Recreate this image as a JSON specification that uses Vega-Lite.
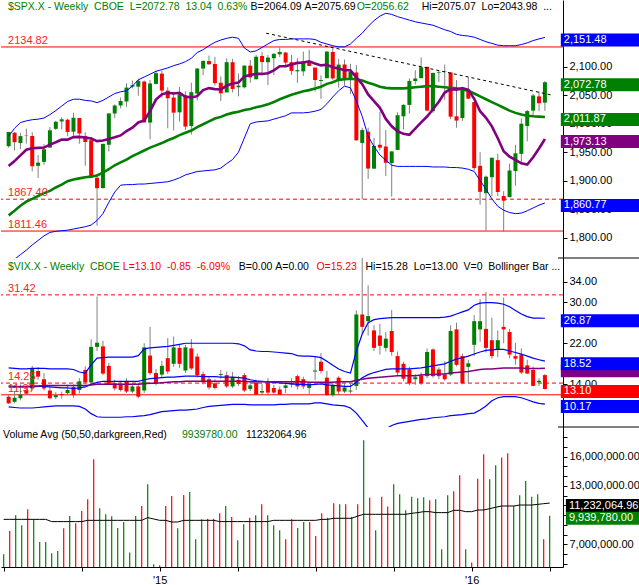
{
"$schema":"https://vega.github.io/schema/vega-lite/v6.json",
"padding":0,"background":"white","spacing":0,"bounds":"flush",
"config":{"view":{"stroke":null},"font":"Liberation Sans","axis":{"labelFont":"Liberation Sans","grid":false,"domainColor":"#000","tickColor":"#000","labelColor":"#000","labelFontSize":11}},
"datasets":{
"spx":[
{"i":0,"o":1960.5,"h":1985.6,"l":1958,"c":1985.44,"m10":1925.65,"m50":1839,"bu":1978,"bl":1755,"v":5970000,"va":9560000,"d":"u"},
{"i":1,"o":1984.2,"h":1985.6,"l":1952.9,"c":1967.57,"m10":1934.29,"m50":1847,"bu":1992,"bl":1762,"v":8360000,"va":9560000,"d":"d"},
{"i":2,"o":1966,"h":1983.9,"l":1955.6,"c":1978.22,"m10":1944.26,"m50":1856,"bu":2002,"bl":1770,"v":9970000,"va":9560000,"d":"u"},
{"i":3,"o":1979,"h":1991.4,"l":1965,"c":1978.34,"m10":1954.31,"m50":1863,"bu":2005,"bl":1778,"v":8950000,"va":9560000,"d":"u"},
{"i":4,"o":1978.3,"h":1984.9,"l":1916.4,"c":1925.15,"m10":1956.77,"m50":1868,"bu":2007,"bl":1787,"v":10590000,"va":9560000,"d":"d"},
{"i":5,"o":1926,"h":1945,"l":1904.8,"c":1931.59,"m10":1957.57,"m50":1873,"bu":2008,"bl":1795,"v":9560000,"va":9560000,"d":"u"},
{"i":6,"o":1933,"h":1964,"l":1928,"c":1955.06,"m10":1958.14,"m50":1878,"bu":2010,"bl":1803,"v":7230000,"va":9560000,"d":"u"},
{"i":7,"o":1958,"h":1994,"l":1958,"c":1988.4,"m10":1963.36,"m50":1882,"bu":2016,"bl":1809,"v":7230000,"va":9560000,"d":"u"},
{"i":8,"o":1991,"h":2005,"l":1989,"c":2003.37,"m10":1967.41,"m50":1888,"bu":2023,"bl":1811,"v":6070000,"va":9330000,"d":"u"},
{"i":9,"o":2004,"h":2011.2,"l":1990,"c":2007.71,"m10":1972.09,"m50":1893,"bu":2031,"bl":1812,"v":6310000,"va":9330000,"d":"u"},
{"i":10,"o":2007,"h":2009,"l":1978,"c":1985.54,"m10":1972.1,"m50":1899,"bu":2039,"bl":1813,"v":8640000,"va":9330000,"d":"d"},
{"i":11,"o":1986,"h":2019.3,"l":1978.5,"c":2010.4,"m10":1976.38,"m50":1902,"bu":2043,"bl":1815,"v":9900000,"va":9330000,"d":"u"},
{"i":12,"o":2010,"h":2010.4,"l":1965,"c":1982.85,"m10":1976.84,"m50":1904,"bu":2043,"bl":1817,"v":9150000,"va":9330000,"d":"d"},
{"i":13,"o":1978,"h":1985,"l":1926,"c":1967.9,"m10":1975.8,"m50":1906,"bu":2041,"bl":1819,"v":10420000,"va":9330000,"d":"d"},
{"i":14,"o":1971,"h":1977,"l":1905,"c":1906.13,"m10":1973.9,"m50":1907,"bu":2040,"bl":1822,"v":11620000,"va":9460000,"d":"d"},
{"i":15,"o":1905,"h":1912,"l":1820.7,"c":1886.76,"m10":1969.41,"m50":1909,"bu":2037,"bl":1830,"v":15720000,"va":9460000,"d":"d"},
{"i":16,"o":1887,"h":1965,"l":1886,"c":1964.58,"m10":1970.36,"m50":1914,"bu":2041,"bl":1842,"v":10690000,"va":9460000,"d":"u"},
{"i":17,"o":1963,"h":2018.2,"l":1951,"c":2018.05,"m10":1973.33,"m50":1920,"bu":2047,"bl":1862,"v":10080000,"va":9460000,"d":"u"},
{"i":18,"o":2018,"h":2034,"l":2010,"c":2031.92,"m10":1976.18,"m50":1927,"bu":2053,"bl":1880,"v":9870000,"va":9460000,"d":"u"},
{"i":19,"o":2032,"h":2046,"l":2027,"c":2039.82,"m10":1979.4,"m50":1932,"bu":2056,"bl":1892,"v":8670000,"va":9460000,"d":"u"},
{"i":20,"o":2039,"h":2071,"l":2030,"c":2063.5,"m10":1987.19,"m50":1937,"bu":2058,"bl":1893,"v":9290000,"va":9460000,"d":"u"},
{"i":21,"o":2065,"h":2075.8,"l":2062,"c":2067.56,"m10":1992.91,"m50":1943,"bu":2066,"bl":1893,"v":6170000,"va":9460000,"d":"u"},
{"i":22,"o":2065,"h":2079,"l":2049,"c":2075.37,"m10":2002.16,"m50":1948,"bu":2077,"bl":1894,"v":9900000,"va":9460000,"d":"u"},
{"i":23,"o":2074,"h":2075.8,"l":2002,"c":2002.33,"m10":2005.6,"m50":1953,"bu":2082,"bl":1894,"v":10930000,"va":9460000,"d":"d"},
{"i":24,"o":2002,"h":2077,"l":1972.6,"c":2070.65,"m10":2022.05,"m50":1958,"bu":2087,"bl":1895,"v":13160000,"va":9740000,"d":"u"},
{"i":25,"o":2070,"h":2093.6,"l":2069,"c":2088.77,"m10":2042.26,"m50":1962,"bu":2092,"bl":1896,"v":4940000,"va":9600000,"d":"u"},
{"i":26,"o":2088,"h":2093,"l":2046,"c":2058.2,"m10":2051.62,"m50":1966,"bu":2095,"bl":1897,"v":4840000,"va":9460000,"d":"d"},
{"i":27,"o":2058,"h":2064,"l":1992,"c":2044.81,"m10":2054.29,"m50":1971,"bu":2098,"bl":1898,"v":10930000,"va":9460000,"d":"d"},
{"i":28,"o":2046,"h":2056,"l":1988,"c":2019.42,"m10":2053.04,"m50":1975,"bu":2102,"bl":1901,"v":11960000,"va":9290000,"d":"d"},
{"i":29,"o":2020,"h":2064.6,"l":2004,"c":2051.82,"m10":2054.24,"m50":1980,"bu":2105,"bl":1905,"v":8640000,"va":9290000,"d":"u"},
{"i":30,"o":2050,"h":2057,"l":1989,"c":1994.99,"m10":2047.39,"m50":1984,"bu":2109,"bl":1910,"v":12060000,"va":9460000,"d":"d"},
{"i":31,"o":1996,"h":2072,"l":1980.9,"c":2055.47,"m10":2046.18,"m50":1988,"bu":2115,"bl":1913,"v":12370000,"va":9460000,"d":"u"},
{"i":32,"o":2053,"h":2097,"l":2041,"c":2096.99,"m10":2048.35,"m50":1994,"bu":2125,"bl":1916,"v":7510000,"va":9460000,"d":"u"},
{"i":33,"o":2097,"h":2111,"l":2085,"c":2110.3,"m10":2059.14,"m50":1999,"bu":2130,"bl":1917,"v":9560000,"va":9460000,"d":"u"},
{"i":34,"o":2110,"h":2119.6,"l":2103,"c":2104.5,"m10":2062.53,"m50":2004,"bu":2137,"bl":1918,"v":9630000,"va":9460000,"d":"d"},
{"i":35,"o":2105,"h":2117.5,"l":2067,"c":2071.26,"m10":2060.78,"m50":2009,"bu":2143,"bl":1919,"v":9630000,"va":9460000,"d":"d"},
{"i":36,"o":2072,"h":2083,"l":2039.7,"c":2053.4,"m10":2060.3,"m50":2012,"bu":2147,"bl":1922,"v":10180000,"va":9330000,"d":"d"},
{"i":37,"o":2055,"h":2114.9,"l":2055,"c":2108.1,"m10":2066.63,"m50":2016,"bu":2150,"bl":1930,"v":10930000,"va":9330000,"d":"u"},
{"i":38,"o":2108,"h":2114,"l":2055,"c":2061.02,"m10":2070.79,"m50":2019,"bu":2152,"bl":1937,"v":9800000,"va":9330000,"d":"d"},
{"i":39,"o":2064,"h":2088,"l":2048,"c":2066.96,"m10":2072.3,"m50":2021,"bu":2150,"bl":1950,"v":7410000,"va":9330000,"d":"u"},
{"i":40,"o":2064,"h":2102.6,"l":2062,"c":2102.06,"m10":2083.01,"m50":2024,"bu":2133,"bl":1975,"v":9050000,"va":9330000,"d":"u"},
{"i":41,"o":2102,"h":2111.9,"l":2072,"c":2081.18,"m10":2085.58,"m50":2026,"bu":2126,"bl":2000,"v":9730000,"va":9330000,"d":"d"},
{"i":42,"o":2078,"h":2120.9,"l":2078,"c":2117.69,"m10":2087.65,"m50":2029,"bu":2128,"bl":2003,"v":9970000,"va":9330000,"d":"u"},
{"i":43,"o":2119,"h":2125.9,"l":2085,"c":2108.29,"m10":2087.45,"m50":2031,"bu":2134,"bl":2004,"v":11100000,"va":9330000,"d":"d"},
{"i":44,"o":2108,"h":2120.9,"l":2067.9,"c":2116.1,"m10":2088.61,"m50":2034,"bu":2140,"bl":2005,"v":9970000,"va":9330000,"d":"u"},
{"i":45,"o":2115,"h":2123.9,"l":2085.6,"c":2122.73,"m10":2093.75,"m50":2038,"bu":2146,"bl":2008,"v":8950000,"va":9460000,"d":"u"},
{"i":46,"o":2122,"h":2134.7,"l":2117,"c":2126.06,"m10":2101.02,"m50":2043,"bu":2148,"bl":2011,"v":8430000,"va":9460000,"d":"u"},
{"i":47,"o":2125,"h":2126.2,"l":2099,"c":2107.39,"m10":2100.95,"m50":2047,"bu":2148,"bl":2014,"v":7510000,"va":9460000,"d":"d"},
{"i":48,"o":2108,"h":2121,"l":2085.7,"c":2092.83,"m10":2104.13,"m50":2051,"bu":2149,"bl":2019,"v":9560000,"va":9460000,"d":"d"},
{"i":49,"o":2092,"h":2115,"l":2072,"c":2094.11,"m10":2106.84,"m50":2054,"bu":2149,"bl":2019,"v":8670000,"va":9460000,"d":"u"},
{"i":50,"o":2092,"h":2126.6,"l":2084,"c":2109.99,"m10":2107.64,"m50":2057,"bu":2149,"bl":2019,"v":9290000,"va":9460000,"d":"u"},
{"i":51,"o":2110,"h":2129.9,"l":2101,"c":2101.49,"m10":2109.67,"m50":2059,"bu":2149,"bl":2020,"v":9290000,"va":9460000,"d":"d"},
{"i":52,"o":2098.6,"h":2098.6,"l":2056.6,"c":2076.78,"m10":2105.58,"m50":2062,"bu":2148,"bl":2022,"v":7850000,"va":9460000,"d":"d"},
{"i":53,"o":2075,"h":2085,"l":2044,"c":2076.62,"m10":2102.41,"m50":2065,"bu":2143,"bl":2025,"v":10180000,"va":9560000,"d":"d"},
{"i":54,"o":2080,"h":2128,"l":2080,"c":2126.64,"m10":2103.46,"m50":2070,"bu":2140,"bl":2035,"v":9730000,"va":9560000,"d":"u"},
{"i":55,"o":2126,"h":2132.8,"l":2077,"c":2079.65,"m10":2099.16,"m50":2073,"bu":2137,"bl":2047,"v":11210000,"va":9670000,"d":"d"},
{"i":56,"o":2077,"h":2114,"l":2063.5,"c":2103.84,"m10":2096.93,"m50":2077,"bu":2135,"bl":2058,"v":11100000,"va":9670000,"d":"u"},
{"i":57,"o":2104,"h":2112.7,"l":2067,"c":2077.57,"m10":2093.95,"m50":2078,"bu":2135,"bl":2066,"v":11100000,"va":9670000,"d":"d"},
{"i":58,"o":2080,"h":2105,"l":2052,"c":2091.54,"m10":2093.82,"m50":2079,"bu":2140,"bl":2063,"v":9840000,"va":9670000,"d":"u"},
{"i":59,"o":2090,"h":2103,"l":1970,"c":1970.89,"m10":2081.5,"m50":2078,"bu":2150,"bl":2040,"v":11100000,"va":9900000,"d":"d"},
{"i":60,"o":1966,"h":1993,"l":1867,"c":1988.87,"m10":2069.39,"m50":2076,"bu":2159,"bl":2013,"v":17670000,"va":10080000,"d":"u"},
{"i":61,"o":1986,"h":1993,"l":1903,"c":1921.22,"m10":2051.36,"m50":2072,"bu":2171,"bl":1978,"v":11790000,"va":10080000,"d":"d"},
{"i":62,"o":1921,"h":1975,"l":1921,"c":1961.05,"m10":2039.79,"m50":2069,"bu":2181,"bl":1960,"v":8430000,"va":10080000,"d":"u"},
{"i":63,"o":1963,"h":2020.9,"l":1953,"c":1958.03,"m10":2027.93,"m50":2065,"bu":2189,"bl":1945,"v":11890000,"va":10080000,"d":"d"},
{"i":64,"o":1960,"h":1989,"l":1908,"c":1931.34,"m10":2008.4,"m50":2063,"bu":2194,"bl":1936,"v":10870000,"va":10080000,"d":"d"},
{"i":65,"o":1931,"h":1951.4,"l":1871.9,"c":1951.36,"m10":1995.57,"m50":2062,"bu":2192,"bl":1927,"v":13160000,"va":10080000,"d":"u"},
{"i":66,"o":1954,"h":2020,"l":1954,"c":2014.89,"m10":1986.68,"m50":2062,"bu":2188,"bl":1925,"v":12130000,"va":10080000,"d":"u"},
{"i":67,"o":2013,"h":2034,"l":1990,"c":2033.11,"m10":1982.23,"m50":2062,"bu":2185,"bl":1925,"v":10490000,"va":10080000,"d":"u"},
{"i":68,"o":2033,"h":2079.7,"l":2018,"c":2075.15,"m10":1980.59,"m50":2063,"bu":2182,"bl":1925,"v":11890000,"va":10180000,"d":"u"},
{"i":69,"o":2075,"h":2094,"l":2069,"c":2079.36,"m10":1991.44,"m50":2064,"bu":2179,"bl":1925,"v":11720000,"va":10250000,"d":"u"},
{"i":70,"o":2080,"h":2116.5,"l":2080,"c":2099.2,"m10":2002.47,"m50":2065,"bu":2177,"bl":1925,"v":11820000,"va":10350000,"d":"u"},
{"i":71,"o":2100,"h":2100,"l":2022,"c":2023.04,"m10":2012.65,"m50":2066,"bu":2175,"bl":1925,"v":11510000,"va":10350000,"d":"d"},
{"i":72,"o":2022,"h":2089.6,"l":2019,"c":2089.17,"m10":2025.47,"m50":2066,"bu":2173,"bl":1924,"v":11620000,"va":10250000,"d":"u"},
{"i":73,"o":2089,"h":2094,"l":2073,"c":2090.11,"m10":2038.67,"m50":2065,"bu":2169,"bl":1924,"v":6480000,"va":10250000,"d":"u"},
{"i":74,"o":2091,"h":2104,"l":2042,"c":2091.69,"m10":2054.71,"m50":2064,"bu":2165,"bl":1924,"v":12030000,"va":10250000,"d":"u"},
{"i":75,"o":2090,"h":2090,"l":2008,"c":2012.37,"m10":2060.81,"m50":2063,"bu":2162,"bl":1923,"v":12440000,"va":10490000,"d":"d"},
{"i":76,"o":2013,"h":2076.7,"l":1993,"c":2005.55,"m10":2059.88,"m50":2062,"bu":2157,"bl":1923,"v":14080000,"va":10490000,"d":"d"},
{"i":77,"o":2010,"h":2064,"l":2005,"c":2060.99,"m10":2062.66,"m50":2060,"bu":2155,"bl":1922,"v":6480000,"va":10350000,"d":"u"},
{"i":78,"o":2060,"h":2081.6,"l":2043.6,"c":2043.94,"m10":2059.54,"m50":2058,"bu":2154,"bl":1920,"v":5120000,"va":10350000,"d":"d"},
{"i":79,"o":2038,"h":2038.2,"l":1918,"c":1922.03,"m10":2043.81,"m50":2053,"bu":2152,"bl":1916,"v":13740000,"va":10520000,"d":"d"},
{"i":80,"o":1926,"h":1950,"l":1857.8,"c":1880.33,"m10":2021.92,"m50":2048,"bu":2148,"bl":1900,"v":16240000,"va":10520000,"d":"d"},
{"i":81,"o":1878,"h":1908.8,"l":1812.3,"c":1906.9,"m10":2010.31,"m50":2043,"bu":2144,"bl":1885,"v":13670000,"va":10660000,"d":"u"},
{"i":82,"o":1906,"h":1940.3,"l":1872.7,"c":1940.24,"m10":1995.42,"m50":2038,"bu":2141,"bl":1868,"v":15110000,"va":10800000,"d":"u"},
{"i":83,"o":1936,"h":1947.2,"l":1872.7,"c":1880.05,"m10":1974.41,"m50":2033,"bu":2138,"bl":1855,"v":15900000,"va":10930000,"d":"d"},
{"i":84,"o":1873,"h":1881.6,"l":1810.1,"c":1864.78,"m10":1951.72,"m50":2028,"bu":2137,"bl":1848,"v":16340000,"va":10930000,"d":"d"},
{"i":85,"o":1871,"h":1930,"l":1871,"c":1917.78,"m10":1942.26,"m50":2023,"bu":2137,"bl":1844,"v":10930000,"va":10930000,"d":"u"},
{"i":86,"o":1917,"h":1963,"l":1891,"c":1948.05,"m10":1936.51,"m50":2019,"bu":2137,"bl":1842,"v":12030000,"va":11030000,"d":"u"},
{"i":87,"o":1947,"h":2009,"l":1931.8,"c":1999.99,"m10":1930.41,"m50":2016,"bu":2139,"bl":1843,"v":13500000,"va":11030000,"d":"u"},
{"i":88,"o":1996,"h":2024,"l":1969,"c":2022.19,"m10":1928.23,"m50":2014,"bu":2142,"bl":1847,"v":11890000,"va":11030000,"d":"u"},
{"i":89,"o":2023,"h":2052.4,"l":2012,"c":2049.58,"m10":1940.99,"m50":2013,"bu":2146,"bl":1852,"v":12130000,"va":11100000,"d":"u"},
{"i":90,"o":2048,"h":2056.6,"l":2022,"c":2035.94,"m10":1956.55,"m50":2012.5,"bu":2149,"bl":1857,"v":7510000,"va":11170000,"d":"d"},
{"i":91,"o":2037,"h":2075.1,"l":2022.5,"c":2072.78,"m10":1973.13,"m50":2011.87,"bu":2151.48,"bl":1860.77,"v":9939780,"va":11232064.96,"d":"u"}
],
"vix":[
{"i":0,"o":11.6,"h":12.0,"l":10.2,"c":10.3,"bu":17.2,"bm":13.7,"bl":9.6,"m":13.5},
{"i":1,"o":10.6,"h":12.6,"l":10.3,"c":11.4,"bu":17.1,"bm":13.6,"bl":9.5,"m":13.5},
{"i":2,"o":11.3,"h":14.0,"l":10.9,"c":12.0,"bu":17.0,"bm":13.5,"bl":9.4,"m":13.6},
{"i":3,"o":12.9,"h":13.3,"l":11.9,"c":12.2,"bu":17.0,"bm":13.5,"bl":9.4,"m":13.6},
{"i":4,"o":13.2,"h":17.6,"l":12.8,"c":17.1,"bu":17.1,"bm":13.5,"bl":9.4,"m":13.7},
{"i":5,"o":16.6,"h":17.4,"l":14.9,"c":15.5,"bu":17.1,"bm":13.6,"bl":9.5,"m":13.7},
{"i":6,"o":15.0,"h":16.2,"l":12.8,"c":13.2,"bu":17.1,"bm":13.6,"bl":9.6,"m":13.8},
{"i":7,"o":12.8,"h":13.5,"l":11.1,"c":11.3,"bu":17.0,"bm":13.5,"bl":9.7,"m":13.8},
{"i":8,"o":11.5,"h":12.5,"l":11.1,"c":11.9,"bu":17.0,"bm":13.4,"bl":9.8,"m":13.8},
{"i":9,"o":12.1,"h":12.6,"l":11.2,"c":11.9,"bu":17.0,"bm":13.3,"bl":9.8,"m":13.8},
{"i":10,"o":12.3,"h":13.9,"l":11.9,"c":12.9,"bu":17.0,"bm":13.3,"bl":9.8,"m":13.8},
{"i":11,"o":13.5,"h":14.0,"l":11.4,"c":11.9,"bu":16.9,"bm":13.2,"bl":9.8,"m":13.8},
{"i":12,"o":12.9,"h":15.2,"l":12.2,"c":14.6,"bu":16.4,"bm":13.3,"bl":9.7,"m":13.8},
{"i":13,"o":16.8,"h":17.5,"l":14.0,"c":14.4,"bu":16.2,"bm":13.5,"bl":9.2,"m":13.8},
{"i":14,"o":14.4,"h":22.8,"l":14.0,"c":21.3,"bu":17.8,"bm":14.0,"bl":8.3,"m":13.9},
{"i":15,"o":21.3,"h":31.1,"l":20.5,"c":22.1,"bu":19.1,"bm":14.4,"bl":7.7,"m":14.0},
{"i":16,"o":21.4,"h":22.5,"l":15.8,"c":16.1,"bu":19.2,"bm":14.6,"bl":7.6,"m":14.0},
{"i":17,"o":17.6,"h":18.2,"l":13.9,"c":14.1,"bu":19.3,"bm":14.6,"bl":7.6,"m":14.0},
{"i":18,"o":14.2,"h":14.9,"l":12.8,"c":13.2,"bu":19.3,"bm":14.6,"bl":7.6,"m":14.0},
{"i":19,"o":14.0,"h":14.5,"l":12.6,"c":12.9,"bu":19.3,"bm":14.6,"bl":7.6,"m":14.0},
{"i":20,"o":14.6,"h":15.2,"l":12.3,"c":12.6,"bu":19.3,"bm":14.6,"bl":7.7,"m":14.0},
{"i":21,"o":12.6,"h":14.3,"l":12.3,"c":13.6,"bu":19.3,"bm":14.6,"bl":7.7,"m":14.0},
{"i":22,"o":13.6,"h":14.3,"l":11.3,"c":11.6,"bu":19.6,"bm":14.6,"bl":7.8,"m":14.0},
{"i":23,"o":12.8,"h":22.0,"l":12.3,"c":21.2,"bu":20.9,"bm":14.9,"bl":7.9,"m":14.1},
{"i":24,"o":19.6,"h":25.2,"l":15.8,"c":16.2,"bu":21.1,"bm":15.1,"bl":8.1,"m":14.2},
{"i":25,"o":16.2,"h":17.0,"l":13.8,"c":14.2,"bu":21.2,"bm":15.2,"bl":8.4,"m":14.2},
{"i":26,"o":15.9,"h":18.6,"l":15.4,"c":17.6,"bu":21.3,"bm":15.3,"bl":8.7,"m":14.3},
{"i":27,"o":19.1,"h":23.0,"l":16.0,"c":16.5,"bu":21.4,"bm":15.4,"bl":8.8,"m":14.4},
{"i":28,"o":18.0,"h":23.3,"l":17.4,"c":21.2,"bu":21.6,"bm":15.4,"bl":8.9,"m":14.5},
{"i":29,"o":21.1,"h":21.8,"l":17.2,"c":18.0,"bu":21.8,"bm":15.5,"bl":9.0,"m":14.5},
{"i":30,"o":16.7,"h":21.7,"l":16.2,"c":21.2,"bu":22.0,"bm":15.6,"bl":9.0,"m":14.6},
{"i":31,"o":21.0,"h":22.8,"l":16.8,"c":17.1,"bu":22.0,"bm":15.6,"bl":9.1,"m":14.6},
{"i":32,"o":19.4,"h":20.0,"l":15.3,"c":15.8,"bu":22.0,"bm":15.6,"bl":9.2,"m":14.6},
{"i":33,"o":16.0,"h":16.5,"l":14.0,"c":14.4,"bu":22.0,"bm":15.5,"bl":9.5,"m":14.6},
{"i":34,"o":15.0,"h":15.6,"l":13.0,"c":13.4,"bu":22.0,"bm":15.5,"bl":9.7,"m":14.6},
{"i":35,"o":14.2,"h":15.0,"l":13.0,"c":13.3,"bu":22.0,"bm":15.5,"bl":9.8,"m":14.6},
{"i":36,"o":15.8,"h":16.8,"l":15.1,"c":16.0,"bu":22.0,"bm":15.4,"bl":9.9,"m":14.6},
{"i":37,"o":15.8,"h":16.5,"l":13.3,"c":13.6,"bu":22.0,"bm":15.4,"bl":10.0,"m":14.6},
{"i":38,"o":13.6,"h":16.4,"l":13.3,"c":15.4,"bu":22.0,"bm":15.4,"bl":10.1,"m":14.6},
{"i":39,"o":14.9,"h":15.6,"l":13.7,"c":14.1,"bu":21.9,"bm":15.3,"bl":10.1,"m":14.6},
{"i":40,"o":15.8,"h":16.2,"l":12.5,"c":12.8,"bu":21.5,"bm":15.2,"bl":10.1,"m":14.6},
{"i":41,"o":13.1,"h":14.6,"l":12.7,"c":13.8,"bu":20.7,"bm":14.9,"bl":10.0,"m":14.5},
{"i":42,"o":14.3,"h":14.9,"l":11.9,"c":12.0,"bu":20.5,"bm":14.7,"bl":10.0,"m":14.5},
{"i":43,"o":12.4,"h":14.1,"l":12.1,"c":12.7,"bu":20.4,"bm":14.6,"bl":10.0,"m":14.5},
{"i":44,"o":14.3,"h":15.2,"l":12.1,"c":12.4,"bu":20.4,"bm":14.5,"bl":10.0,"m":14.5},
{"i":45,"o":13.3,"h":13.9,"l":12.0,"c":12.4,"bu":20.3,"bm":14.4,"bl":10.0,"m":14.5},
{"i":46,"o":13.0,"h":13.6,"l":11.9,"c":12.0,"bu":20.2,"bm":14.3,"bl":10.1,"m":14.5},
{"i":47,"o":13.3,"h":14.5,"l":12.3,"c":13.8,"bu":20.1,"bm":14.2,"bl":10.1,"m":14.5},
{"i":48,"o":14.0,"h":15.2,"l":13.4,"c":14.3,"bu":20.0,"bm":14.1,"bl":10.2,"m":14.5},
{"i":49,"o":15.6,"h":15.9,"l":13.0,"c":13.6,"bu":19.6,"bm":14.0,"bl":10.2,"m":14.5},
{"i":50,"o":15.0,"h":15.5,"l":13.1,"c":13.6,"bu":19.5,"bm":14.0,"bl":10.2,"m":14.5},
{"i":51,"o":13.3,"h":14.5,"l":12.1,"c":14.1,"bu":19.5,"bm":13.9,"bl":10.2,"m":14.4},
{"i":52,"o":16.5,"h":19.3,"l":14.8,"c":16.7,"bu":19.4,"bm":14.0,"bl":10.4,"m":14.4},
{"i":53,"o":18.4,"h":20.1,"l":16.1,"c":16.6,"bu":19.2,"bm":14.1,"bl":10.4,"m":14.4},
{"i":54,"o":15.3,"h":16.6,"l":11.8,"c":11.9,"bu":18.5,"bm":13.9,"bl":10.2,"m":14.4},
{"i":55,"o":11.9,"h":14.3,"l":11.6,"c":13.7,"bu":17.7,"bm":13.8,"bl":10.0,"m":14.4},
{"i":56,"o":15.3,"h":15.6,"l":12.0,"c":12.6,"bu":17.0,"bm":13.7,"bl":9.9,"m":14.5},
{"i":57,"o":12.6,"h":14.3,"l":12.3,"c":13.4,"bu":16.5,"bm":13.6,"bl":9.8,"m":14.5},
{"i":58,"o":12.6,"h":14.2,"l":12.2,"c":12.8,"bu":16.2,"bm":13.6,"bl":9.4,"m":14.5},
{"i":59,"o":13.7,"h":28.4,"l":12.9,"c":27.6,"bu":20.5,"bm":14.4,"bl":8.4,"m":14.8},
{"i":60,"o":27.6,"h":40.0,"l":23.8,"c":25.2,"bu":23.8,"bm":15.3,"bl":7.0,"m":15.0},
{"i":61,"o":26.3,"h":33.3,"l":23.5,"c":27.3,"bu":26.0,"bm":15.9,"bl":5.5,"m":15.2},
{"i":62,"o":24.5,"h":25.5,"l":20.5,"c":21.1,"bu":26.6,"bm":16.3,"bl":5.0,"m":15.3},
{"i":63,"o":23.5,"h":25.8,"l":19.8,"c":21.5,"bu":26.8,"bm":16.6,"bl":5.0,"m":15.4},
{"i":64,"o":21.1,"h":24.2,"l":20.4,"c":22.9,"bu":26.9,"bm":16.9,"bl":5.3,"m":15.5},
{"i":65,"o":24.4,"h":28.5,"l":19.6,"c":20.3,"bu":27.0,"bm":17.0,"bl":6.0,"m":15.6},
{"i":66,"o":19.5,"h":20.4,"l":15.7,"c":16.3,"bu":27.0,"bm":17.0,"bl":6.4,"m":15.7},
{"i":67,"o":18.0,"h":18.4,"l":14.6,"c":15.1,"bu":27.0,"bm":17.0,"bl":6.6,"m":15.7},
{"i":68,"o":16.9,"h":17.4,"l":13.8,"c":14.2,"bu":27.0,"bm":17.0,"bl":6.8,"m":15.7},
{"i":69,"o":15.0,"h":16.0,"l":13.9,"c":15.4,"bu":27.0,"bm":17.1,"bl":7.0,"m":15.7},
{"i":70,"o":15.7,"h":16.3,"l":13.9,"c":14.2,"bu":27.0,"bm":17.2,"bl":7.2,"m":15.8},
{"i":71,"o":15.6,"h":21.0,"l":15.2,"c":20.3,"bu":27.0,"bm":17.4,"bl":7.3,"m":15.9},
{"i":72,"o":20.8,"h":21.0,"l":15.3,"c":15.6,"bu":27.0,"bm":17.6,"bl":7.5,"m":15.9},
{"i":73,"o":16.9,"h":17.3,"l":15.0,"c":15.6,"bu":27.0,"bm":17.8,"bl":7.6,"m":16.0},
{"i":74,"o":15.9,"h":18.5,"l":14.7,"c":15.0,"bu":27.1,"bm":18.0,"bl":7.7,"m":16.0},
{"i":75,"o":15.9,"h":25.5,"l":15.6,"c":24.4,"bu":27.3,"bm":18.5,"bl":7.9,"m":16.2},
{"i":76,"o":24.7,"h":26.0,"l":17.5,"c":17.8,"bu":27.7,"bm":18.9,"bl":8.0,"m":16.3},
{"i":77,"o":19.5,"h":20.0,"l":14.0,"c":14.2,"bu":28.1,"bm":19.2,"bl":8.1,"m":16.4},
{"i":78,"o":17.4,"h":18.8,"l":14.2,"c":18.1,"bu":28.5,"bm":19.5,"bl":8.3,"m":16.5},
{"i":79,"o":21.7,"h":27.5,"l":19.5,"c":26.3,"bu":29.4,"bm":19.9,"bl":8.4,"m":16.7},
{"i":80,"o":24.7,"h":30.6,"l":22.3,"c":26.3,"bu":29.8,"bm":20.3,"bl":9.0,"m":16.9},
{"i":81,"o":24.8,"h":32.0,"l":20.2,"c":21.1,"bu":29.9,"bm":20.6,"bl":9.8,"m":17.0},
{"i":82,"o":22.6,"h":27.0,"l":19.0,"c":19.5,"bu":29.9,"bm":20.7,"bl":10.8,"m":17.0},
{"i":83,"o":20.7,"h":24.5,"l":19.3,"c":22.6,"bu":29.8,"bm":20.8,"bl":11.4,"m":17.1},
{"i":84,"o":25.2,"h":30.9,"l":22.0,"c":24.7,"bu":29.6,"bm":20.8,"bl":11.6,"m":17.2},
{"i":85,"o":24.2,"h":24.8,"l":19.1,"c":19.8,"bu":29.1,"bm":20.5,"bl":11.6,"m":17.2},
{"i":86,"o":19.5,"h":22.1,"l":17.8,"c":19.0,"bu":28.4,"bm":20.2,"bl":11.6,"m":17.2},
{"i":87,"o":19.8,"h":21.0,"l":16.0,"c":16.3,"bu":27.7,"bm":19.9,"bl":11.4,"m":17.2},
{"i":88,"o":17.7,"h":18.8,"l":16.0,"c":16.1,"bu":27.2,"bm":19.5,"bl":11.0,"m":17.1},
{"i":89,"o":16.8,"h":17.5,"l":13.6,"c":13.7,"bu":26.9,"bm":19.1,"bl":10.6,"m":17.1},
{"i":90,"o":14.4,"h":15.2,"l":13.7,"c":14.7,"bu":26.9,"bm":18.8,"bl":10.3,"m":17.1},
{"i":91,"o":15.8,"h":16.0,"l":13.0,"c":13.1,"bu":26.87,"bm":18.52,"bl":10.17,"m":17.13}
]
},
"vconcat":[
{
"width":562,"height":258,
"layer":[
{"data":{"values":[{"v":2134.82},{"v":1811.46}]},"mark":{"type":"rule","color":"#ff0000","strokeWidth":1},"encoding":{"y":{"field":"v","type":"quantitative","scale":{"domain":[1764.1,2217.3],"nice":false,"zero":false},"axis":{"orient":"right","values":[1800,1850,1900,1950,2000,2050,2100,2150],"labelExpr":"datum.value == 2150 ? '' : format(datum.value, ',.2f')","tickSize":4,"labelPadding":2,"title":null,"labelFlush":false,"labelOverlap":false}}}},
{"data":{"values":[{"v":1867.4}]},"mark":{"type":"rule","color":"#ff0000","strokeWidth":1,"strokeDash":[4,3]},"encoding":{"y":{"field":"v","type":"quantitative","scale":{"domain":[1764.1,2217.3],"nice":false,"zero":false},"axis":{"orient":"right","values":[1800,1850,1900,1950,2000,2050,2100,2150],"labelExpr":"datum.value == 2150 ? '' : format(datum.value, ',.2f')","tickSize":4,"labelPadding":2,"title":null,"labelFlush":false,"labelOverlap":false}}}},
{"data":{"name":"spx"},"mark":{"type":"rule","color":"#808080","strokeWidth":1,"clip":true},"encoding":{"x":{"field":"i","type":"quantitative","scale":{"domain":[-0.45,93.22],"nice":false,"zero":false},"axis":null},"y":{"field":"l","type":"quantitative","scale":{"domain":[1764.1,2217.3],"nice":false,"zero":false},"axis":{"orient":"right","values":[1800,1850,1900,1950,2000,2050,2100,2150],"labelExpr":"datum.value == 2150 ? '' : format(datum.value, ',.2f')","tickSize":4,"labelPadding":2,"title":null,"labelFlush":false,"labelOverlap":false}},"y2":{"field":"h"}}},
{"data":{"name":"spx"},"mark":{"type":"bar","size":4,"clip":true},"encoding":{"x":{"field":"i","type":"quantitative","scale":{"domain":[-0.45,93.22],"nice":false,"zero":false},"axis":null},"y":{"field":"o","type":"quantitative","scale":{"domain":[1764.1,2217.3],"nice":false,"zero":false},"axis":{"orient":"right","values":[1800,1850,1900,1950,2000,2050,2100,2150],"labelExpr":"datum.value == 2150 ? '' : format(datum.value, ',.2f')","tickSize":4,"labelPadding":2,"title":null,"labelFlush":false,"labelOverlap":false}},"y2":{"field":"c"},"color":{"condition":{"test":"datum.c >= datum.o","value":"#008000"},"value":"#ff0000"}}},
{"data":{"name":"spx"},"mark":{"type":"line","color":"#0000ff","strokeWidth":1,"clip":true},"encoding":{"x":{"field":"i","type":"quantitative","scale":{"domain":[-0.45,93.22],"nice":false,"zero":false},"axis":null},"y":{"field":"bu","type":"quantitative","scale":{"domain":[1764.1,2217.3],"nice":false,"zero":false},"axis":{"orient":"right","values":[1800,1850,1900,1950,2000,2050,2100,2150],"labelExpr":"datum.value == 2150 ? '' : format(datum.value, ',.2f')","tickSize":4,"labelPadding":2,"title":null,"labelFlush":false,"labelOverlap":false}}}},
{"data":{"name":"spx"},"mark":{"type":"line","color":"#0000ff","strokeWidth":1,"clip":true},"encoding":{"x":{"field":"i","type":"quantitative","scale":{"domain":[-0.45,93.22],"nice":false,"zero":false},"axis":null},"y":{"field":"bl","type":"quantitative","scale":{"domain":[1764.1,2217.3],"nice":false,"zero":false},"axis":{"orient":"right","values":[1800,1850,1900,1950,2000,2050,2100,2150],"labelExpr":"datum.value == 2150 ? '' : format(datum.value, ',.2f')","tickSize":4,"labelPadding":2,"title":null,"labelFlush":false,"labelOverlap":false}}}},
{"data":{"name":"spx"},"mark":{"type":"line","color":"#008000","strokeWidth":2.6,"clip":true},"encoding":{"x":{"field":"i","type":"quantitative","scale":{"domain":[-0.45,93.22],"nice":false,"zero":false},"axis":null},"y":{"field":"m50","type":"quantitative","scale":{"domain":[1764.1,2217.3],"nice":false,"zero":false},"axis":{"orient":"right","values":[1800,1850,1900,1950,2000,2050,2100,2150],"labelExpr":"datum.value == 2150 ? '' : format(datum.value, ',.2f')","tickSize":4,"labelPadding":2,"title":null,"labelFlush":false,"labelOverlap":false}}}},
{"data":{"name":"spx"},"mark":{"type":"line","color":"#800080","strokeWidth":2.6,"clip":true},"encoding":{"x":{"field":"i","type":"quantitative","scale":{"domain":[-0.45,93.22],"nice":false,"zero":false},"axis":null},"y":{"field":"m10","type":"quantitative","scale":{"domain":[1764.1,2217.3],"nice":false,"zero":false},"axis":{"orient":"right","values":[1800,1850,1900,1950,2000,2050,2100,2150],"labelExpr":"datum.value == 2150 ? '' : format(datum.value, ',.2f')","tickSize":4,"labelPadding":2,"title":null,"labelFlush":false,"labelOverlap":false}}}},
{"data":{"values":[{"i":43.7,"v":2159},{"i":92.3,"v":2050}]},"mark":{"type":"line","color":"#000000","strokeWidth":1,"strokeDash":[3,3]},"encoding":{"x":{"field":"i","type":"quantitative","scale":{"domain":[-0.45,93.22],"nice":false,"zero":false},"axis":null},"y":{"field":"v","type":"quantitative","scale":{"domain":[1764.1,2217.3],"nice":false,"zero":false},"axis":{"orient":"right","values":[1800,1850,1900,1950,2000,2050,2100,2150],"labelExpr":"datum.value == 2150 ? '' : format(datum.value, ',.2f')","tickSize":4,"labelPadding":2,"title":null,"labelFlush":false,"labelOverlap":false}}}},
{"data":{"values":[{"v":2134.82},{"v":1867.4},{"v":1811.46}]},"mark":{"type":"text","align":"left","baseline":"alphabetic","dy":-3,"color":"#ff2020","fontSize":11},"encoding":{"x":{"datum":-0.1,"type":"quantitative","scale":{"domain":[-0.45,93.22],"nice":false,"zero":false},"axis":null},"y":{"field":"v","type":"quantitative","scale":{"domain":[1764.1,2217.3],"nice":false,"zero":false},"axis":{"orient":"right","values":[1800,1850,1900,1950,2000,2050,2100,2150],"labelExpr":"datum.value == 2150 ? '' : format(datum.value, ',.2f')","tickSize":4,"labelPadding":2,"title":null,"labelFlush":false,"labelOverlap":false}},"text":{"field":"v","format":".2f"}}},
{"data":{"values":[{"t":"$SPX.X - Weekly\u00a0\u00a0CBOE\u00a0\u00a0L=2072.78\u00a0\u00a013.04\u00a0\u00a00.63%"}]},"mark":{"type":"text","align":"left","baseline":"alphabetic","fontSize":10.5,"color":"#008000"},"encoding":{"text":{"field":"t"},"x":{"datum":-0.12,"type":"quantitative","scale":{"domain":[-0.45,93.22],"nice":false,"zero":false},"axis":null},"y":{"datum":2198.9,"type":"quantitative","scale":{"domain":[1764.1,2217.3],"nice":false,"zero":false},"axis":{"orient":"right","values":[1800,1850,1900,1950,2000,2050,2100,2150],"labelExpr":"datum.value == 2150 ? '' : format(datum.value, ',.2f')","tickSize":4,"labelPadding":2,"title":null,"labelFlush":false,"labelOverlap":false}}}},
{"data":{"values":[{"t":"B=2064.09\u00a0A=2075.69"}]},"mark":{"type":"text","align":"left","baseline":"alphabetic","fontSize":10.5,"color":"#000000"},"encoding":{"text":{"field":"t"},"x":{"datum":41.05,"type":"quantitative","scale":{"domain":[-0.45,93.22],"nice":false,"zero":false},"axis":null},"y":{"datum":2198.9,"type":"quantitative","scale":{"domain":[1764.1,2217.3],"nice":false,"zero":false},"axis":{"orient":"right","values":[1800,1850,1900,1950,2000,2050,2100,2150],"labelExpr":"datum.value == 2150 ? '' : format(datum.value, ',.2f')","tickSize":4,"labelPadding":2,"title":null,"labelFlush":false,"labelOverlap":false}}}},
{"data":{"values":[{"t":"O=2056.62"}]},"mark":{"type":"text","align":"left","baseline":"alphabetic","fontSize":10.5,"color":"#008000"},"encoding":{"text":{"field":"t"},"x":{"datum":59.05,"type":"quantitative","scale":{"domain":[-0.45,93.22],"nice":false,"zero":false},"axis":null},"y":{"datum":2198.9,"type":"quantitative","scale":{"domain":[1764.1,2217.3],"nice":false,"zero":false},"axis":{"orient":"right","values":[1800,1850,1900,1950,2000,2050,2100,2150],"labelExpr":"datum.value == 2150 ? '' : format(datum.value, ',.2f')","tickSize":4,"labelPadding":2,"title":null,"labelFlush":false,"labelOverlap":false}}}},
{"data":{"values":[{"t":"Hi=2075.07\u00a0\u00a0Lo=2043.98\u00a0\u00a0..."}]},"mark":{"type":"text","align":"left","baseline":"alphabetic","fontSize":10.5,"color":"#000000"},"encoding":{"text":{"field":"t"},"x":{"datum":70.1,"type":"quantitative","scale":{"domain":[-0.45,93.22],"nice":false,"zero":false},"axis":null},"y":{"datum":2198.9,"type":"quantitative","scale":{"domain":[1764.1,2217.3],"nice":false,"zero":false},"axis":{"orient":"right","values":[1800,1850,1900,1950,2000,2050,2100,2150],"labelExpr":"datum.value == 2150 ? '' : format(datum.value, ',.2f')","tickSize":4,"labelPadding":2,"title":null,"labelFlush":false,"labelOverlap":false}}}},
{"data":{"values":[{"v":2151.48,"k":"bb"},{"v":2072.78,"k":"c"},{"v":2011.87,"k":"ma"},{"v":1973.13,"k":"m10"},{"v":1860.77,"k":"bb"}]},"mark":{"type":"rule","strokeWidth":13,"strokeCap":"butt","yOffset":2.5},"encoding":{"x":{"datum":93.7,"type":"quantitative","scale":{"domain":[-0.45,93.22],"nice":false,"zero":false},"axis":null},"x2":{"datum":107},"y":{"field":"v","type":"quantitative","scale":{"domain":[1764.1,2217.3],"nice":false,"zero":false},"axis":{"orient":"right","values":[1800,1850,1900,1950,2000,2050,2100,2150],"labelExpr":"datum.value == 2150 ? '' : format(datum.value, ',.2f')","tickSize":4,"labelPadding":2,"title":null,"labelFlush":false,"labelOverlap":false}},"color":{"condition":[{"test":"datum.k == 'bb'","value":"#0000ff"},{"test":"datum.k == 'm10'","value":"#800080"}],"value":"#008000"}}},
{"data":{"values":[{"v":2151.48},{"v":2072.78},{"v":2011.87},{"v":1973.13},{"v":1860.77}]},"mark":{"type":"text","align":"left","baseline":"middle","color":"#ffffff","fontSize":11,"yOffset":2.5},"encoding":{"x":{"datum":94.2,"type":"quantitative","scale":{"domain":[-0.45,93.22],"nice":false,"zero":false},"axis":null},"y":{"field":"v","type":"quantitative","scale":{"domain":[1764.1,2217.3],"nice":false,"zero":false},"axis":{"orient":"right","values":[1800,1850,1900,1950,2000,2050,2100,2150],"labelExpr":"datum.value == 2150 ? '' : format(datum.value, ',.2f')","tickSize":4,"labelPadding":2,"title":null,"labelFlush":false,"labelOverlap":false}},"text":{"field":"v","format":",.2f"}}},
{"data":{"values":[{"v":1764.1}]},"mark":{"type":"rule","color":"#000000","strokeWidth":1},"encoding":{"x":{"datum":93.22,"type":"quantitative","scale":{"domain":[-0.45,93.22],"nice":false,"zero":false},"axis":null},"x2":{"datum":107},"y":{"field":"v","type":"quantitative","scale":{"domain":[1764.1,2217.3],"nice":false,"zero":false},"axis":{"orient":"right","values":[1800,1850,1900,1950,2000,2050,2100,2150],"labelExpr":"datum.value == 2150 ? '' : format(datum.value, ',.2f')","tickSize":4,"labelPadding":2,"title":null,"labelFlush":false,"labelOverlap":false}}}}
]
},
{
"width":562,"height":169,
"layer":[
{"data":{"values":[{"v":11.97}]},"mark":{"type":"rule","color":"#ff0000","strokeWidth":1},"encoding":{"y":{"field":"v","type":"quantitative","scale":{"domain":[5.7,38.6],"nice":false,"zero":false},"axis":{"orient":"right","values":[10,14,18,22,26,30,34],"labelExpr":"indexof([14,22,30,34], datum.value) >= 0 ? format(datum.value, '.2f') : ''","tickSize":4,"labelPadding":2,"title":null,"labelFlush":false,"labelOverlap":false}}}},
{"data":{"values":[{"v":31.42},{"v":14.25}]},"mark":{"type":"rule","color":"#ff0000","strokeWidth":1,"strokeDash":[4,3]},"encoding":{"y":{"field":"v","type":"quantitative","scale":{"domain":[5.7,38.6],"nice":false,"zero":false},"axis":{"orient":"right","values":[10,14,18,22,26,30,34],"labelExpr":"indexof([14,22,30,34], datum.value) >= 0 ? format(datum.value, '.2f') : ''","tickSize":4,"labelPadding":2,"title":null,"labelFlush":false,"labelOverlap":false}}}},
{"data":{"name":"vix"},"mark":{"type":"rule","color":"#808080","strokeWidth":1,"clip":true},"encoding":{"x":{"field":"i","type":"quantitative","scale":{"domain":[-0.45,93.22],"nice":false,"zero":false},"axis":null},"y":{"field":"l","type":"quantitative","scale":{"domain":[5.7,38.6],"nice":false,"zero":false},"axis":{"orient":"right","values":[10,14,18,22,26,30,34],"labelExpr":"indexof([14,22,30,34], datum.value) >= 0 ? format(datum.value, '.2f') : ''","tickSize":4,"labelPadding":2,"title":null,"labelFlush":false,"labelOverlap":false}},"y2":{"field":"h"}}},
{"data":{"name":"vix"},"mark":{"type":"bar","size":4,"clip":true},"encoding":{"x":{"field":"i","type":"quantitative","scale":{"domain":[-0.45,93.22],"nice":false,"zero":false},"axis":null},"y":{"field":"o","type":"quantitative","scale":{"domain":[5.7,38.6],"nice":false,"zero":false},"axis":{"orient":"right","values":[10,14,18,22,26,30,34],"labelExpr":"indexof([14,22,30,34], datum.value) >= 0 ? format(datum.value, '.2f') : ''","tickSize":4,"labelPadding":2,"title":null,"labelFlush":false,"labelOverlap":false}},"y2":{"field":"c"},"color":{"condition":{"test":"datum.c >= datum.o","value":"#008000"},"value":"#ff0000"}}},
{"data":{"name":"vix"},"mark":{"type":"line","color":"#0000ff","strokeWidth":1.2,"clip":true},"encoding":{"x":{"field":"i","type":"quantitative","scale":{"domain":[-0.45,93.22],"nice":false,"zero":false},"axis":null},"y":{"field":"bu","type":"quantitative","scale":{"domain":[5.7,38.6],"nice":false,"zero":false},"axis":{"orient":"right","values":[10,14,18,22,26,30,34],"labelExpr":"indexof([14,22,30,34], datum.value) >= 0 ? format(datum.value, '.2f') : ''","tickSize":4,"labelPadding":2,"title":null,"labelFlush":false,"labelOverlap":false}}}},
{"data":{"name":"vix"},"mark":{"type":"line","color":"#0000ff","strokeWidth":1.2,"clip":true},"encoding":{"x":{"field":"i","type":"quantitative","scale":{"domain":[-0.45,93.22],"nice":false,"zero":false},"axis":null},"y":{"field":"bm","type":"quantitative","scale":{"domain":[5.7,38.6],"nice":false,"zero":false},"axis":{"orient":"right","values":[10,14,18,22,26,30,34],"labelExpr":"indexof([14,22,30,34], datum.value) >= 0 ? format(datum.value, '.2f') : ''","tickSize":4,"labelPadding":2,"title":null,"labelFlush":false,"labelOverlap":false}}}},
{"data":{"name":"vix"},"mark":{"type":"line","color":"#0000ff","strokeWidth":1.2,"clip":true},"encoding":{"x":{"field":"i","type":"quantitative","scale":{"domain":[-0.45,93.22],"nice":false,"zero":false},"axis":null},"y":{"field":"bl","type":"quantitative","scale":{"domain":[5.7,38.6],"nice":false,"zero":false},"axis":{"orient":"right","values":[10,14,18,22,26,30,34],"labelExpr":"indexof([14,22,30,34], datum.value) >= 0 ? format(datum.value, '.2f') : ''","tickSize":4,"labelPadding":2,"title":null,"labelFlush":false,"labelOverlap":false}}}},
{"data":{"name":"vix"},"mark":{"type":"line","color":"#800080","strokeWidth":1.5,"clip":true},"encoding":{"x":{"field":"i","type":"quantitative","scale":{"domain":[-0.45,93.22],"nice":false,"zero":false},"axis":null},"y":{"field":"m","type":"quantitative","scale":{"domain":[5.7,38.6],"nice":false,"zero":false},"axis":{"orient":"right","values":[10,14,18,22,26,30,34],"labelExpr":"indexof([14,22,30,34], datum.value) >= 0 ? format(datum.value, '.2f') : ''","tickSize":4,"labelPadding":2,"title":null,"labelFlush":false,"labelOverlap":false}}}},
{"data":{"values":[{"v":31.42},{"v":14.25},{"v":11.97}]},"mark":{"type":"text","align":"left","baseline":"alphabetic","dy":-3,"color":"#ff2020","fontSize":11},"encoding":{"x":{"datum":-0.1,"type":"quantitative","scale":{"domain":[-0.45,93.22],"nice":false,"zero":false},"axis":null},"y":{"field":"v","type":"quantitative","scale":{"domain":[5.7,38.6],"nice":false,"zero":false},"axis":{"orient":"right","values":[10,14,18,22,26,30,34],"labelExpr":"indexof([14,22,30,34], datum.value) >= 0 ? format(datum.value, '.2f') : ''","tickSize":4,"labelPadding":2,"title":null,"labelFlush":false,"labelOverlap":false}},"text":{"field":"v","format":".2f"}}},
{"data":{"values":[{"t":"$VIX.X - Weekly\u00a0\u00a0CBOE"}]},"mark":{"type":"text","align":"left","baseline":"alphabetic","fontSize":10.5,"color":"#008000"},"encoding":{"text":{"field":"t"},"x":{"datum":-0.12,"type":"quantitative","scale":{"domain":[-0.45,93.22],"nice":false,"zero":false},"axis":null},"y":{"datum":36.26,"type":"quantitative","scale":{"domain":[5.7,38.6],"nice":false,"zero":false},"axis":{"orient":"right","values":[10,14,18,22,26,30,34],"labelExpr":"indexof([14,22,30,34], datum.value) >= 0 ? format(datum.value, '.2f') : ''","tickSize":4,"labelPadding":2,"title":null,"labelFlush":false,"labelOverlap":false}}}},
{"data":{"values":[{"t":"L=13.10\u00a0\u00a0-0.85\u00a0\u00a0-6.09%"}]},"mark":{"type":"text","align":"left","baseline":"alphabetic","fontSize":10.5,"color":"#ff0000"},"encoding":{"text":{"field":"t"},"x":{"datum":19.38,"type":"quantitative","scale":{"domain":[-0.45,93.22],"nice":false,"zero":false},"axis":null},"y":{"datum":36.26,"type":"quantitative","scale":{"domain":[5.7,38.6],"nice":false,"zero":false},"axis":{"orient":"right","values":[10,14,18,22,26,30,34],"labelExpr":"indexof([14,22,30,34], datum.value) >= 0 ? format(datum.value, '.2f') : ''","tickSize":4,"labelPadding":2,"title":null,"labelFlush":false,"labelOverlap":false}}}},
{"data":{"values":[{"t":"B=0.00\u00a0A=0.00"}]},"mark":{"type":"text","align":"left","baseline":"alphabetic","fontSize":10.5,"color":"#000000"},"encoding":{"text":{"field":"t"},"x":{"datum":39.05,"type":"quantitative","scale":{"domain":[-0.45,93.22],"nice":false,"zero":false},"axis":null},"y":{"datum":36.26,"type":"quantitative","scale":{"domain":[5.7,38.6],"nice":false,"zero":false},"axis":{"orient":"right","values":[10,14,18,22,26,30,34],"labelExpr":"indexof([14,22,30,34], datum.value) >= 0 ? format(datum.value, '.2f') : ''","tickSize":4,"labelPadding":2,"title":null,"labelFlush":false,"labelOverlap":false}}}},
{"data":{"values":[{"t":"O=15.23"}]},"mark":{"type":"text","align":"left","baseline":"alphabetic","fontSize":10.5,"color":"#ff0000"},"encoding":{"text":{"field":"t"},"x":{"datum":52.22,"type":"quantitative","scale":{"domain":[-0.45,93.22],"nice":false,"zero":false},"axis":null},"y":{"datum":36.26,"type":"quantitative","scale":{"domain":[5.7,38.6],"nice":false,"zero":false},"axis":{"orient":"right","values":[10,14,18,22,26,30,34],"labelExpr":"indexof([14,22,30,34], datum.value) >= 0 ? format(datum.value, '.2f') : ''","tickSize":4,"labelPadding":2,"title":null,"labelFlush":false,"labelOverlap":false}}}},
{"data":{"values":[{"t":"Hi=15.28\u00a0\u00a0Lo=13.00\u00a0\u00a0V=0\u00a0\u00a0Bollinger Bar ..."}]},"mark":{"type":"text","align":"left","baseline":"alphabetic","fontSize":10.5,"color":"#000000"},"encoding":{"text":{"field":"t"},"x":{"datum":60.55,"type":"quantitative","scale":{"domain":[-0.45,93.22],"nice":false,"zero":false},"axis":null},"y":{"datum":36.26,"type":"quantitative","scale":{"domain":[5.7,38.6],"nice":false,"zero":false},"axis":{"orient":"right","values":[10,14,18,22,26,30,34],"labelExpr":"indexof([14,22,30,34], datum.value) >= 0 ? format(datum.value, '.2f') : ''","tickSize":4,"labelPadding":2,"title":null,"labelFlush":false,"labelOverlap":false}}}},
{"data":{"values":[{"v":26.87,"k":"bb"},{"v":17.13,"k":"m"},{"v":18.52,"k":"bb"},{"v":13.1,"k":"c"},{"v":10.17,"k":"bb"}]},"mark":{"type":"rule","strokeWidth":13,"strokeCap":"butt","yOffset":2.5},"encoding":{"x":{"datum":93.7,"type":"quantitative","scale":{"domain":[-0.45,93.22],"nice":false,"zero":false},"axis":null},"x2":{"datum":107},"y":{"field":"v","type":"quantitative","scale":{"domain":[5.7,38.6],"nice":false,"zero":false},"axis":{"orient":"right","values":[10,14,18,22,26,30,34],"labelExpr":"indexof([14,22,30,34], datum.value) >= 0 ? format(datum.value, '.2f') : ''","tickSize":4,"labelPadding":2,"title":null,"labelFlush":false,"labelOverlap":false}},"color":{"condition":[{"test":"datum.k == 'bb'","value":"#0000ff"},{"test":"datum.k == 'm'","value":"#800080"}],"value":"#ff0000"}}},
{"data":{"values":[{"v":26.87},{"v":18.52},{"v":13.1},{"v":10.17}]},"mark":{"type":"text","align":"left","baseline":"middle","color":"#ffffff","fontSize":11,"yOffset":2.5},"encoding":{"x":{"datum":94.2,"type":"quantitative","scale":{"domain":[-0.45,93.22],"nice":false,"zero":false},"axis":null},"y":{"field":"v","type":"quantitative","scale":{"domain":[5.7,38.6],"nice":false,"zero":false},"axis":{"orient":"right","values":[10,14,18,22,26,30,34],"labelExpr":"indexof([14,22,30,34], datum.value) >= 0 ? format(datum.value, '.2f') : ''","tickSize":4,"labelPadding":2,"title":null,"labelFlush":false,"labelOverlap":false}},"text":{"field":"v","format":".2f"}}},
{"data":{"values":[{"v":5.7}]},"mark":{"type":"rule","color":"#000000","strokeWidth":1},"encoding":{"x":{"datum":93.22,"type":"quantitative","scale":{"domain":[-0.45,93.22],"nice":false,"zero":false},"axis":null},"x2":{"datum":107},"y":{"field":"v","type":"quantitative","scale":{"domain":[5.7,38.6],"nice":false,"zero":false},"axis":{"orient":"right","values":[10,14,18,22,26,30,34],"labelExpr":"indexof([14,22,30,34], datum.value) >= 0 ? format(datum.value, '.2f') : ''","tickSize":4,"labelPadding":2,"title":null,"labelFlush":false,"labelOverlap":false}}}}
]
},
{
"width":562,"height":140,
"layer":[
{"data":{"name":"spx"},"mark":{"type":"rule","strokeWidth":1.2},"encoding":{"x":{"field":"i","type":"quantitative","scale":{"domain":[-0.45,93.22],"nice":false,"zero":false},"axis":{"orient":"bottom","values":[0,13,26,39,52,65,78,91],"labelExpr":"datum.value == 26 ? \"'15\" : (datum.value == 78 ? \"'16\" : '')","tickSize":4,"labelPadding":3,"title":null,"labelFlush":false}},"y":{"field":"v","type":"quantitative","scale":{"domain":[4670000,19040000],"nice":false,"zero":false},"axis":{"orient":"right","values":[5000000,6000000,7000000,8000000,9000000,10000000,11000000,12000000,13000000,14000000,15000000,16000000,17000000,18000000],"labelExpr":"indexof([7000000,13000000,16000000], datum.value) >= 0 ? format(datum.value, ',.2f') : ''","tickSize":4,"labelPadding":2,"title":null,"labelFlush":false,"labelOverlap":false}},"y2":{"datum":4670000},"color":{"condition":{"test":"datum.d == 'u'","value":"#008000"},"value":"#ff0000"}}},
{"data":{"name":"spx"},"mark":{"type":"line","color":"#000000","strokeWidth":1},"encoding":{"x":{"field":"i","type":"quantitative","scale":{"domain":[-0.45,93.22],"nice":false,"zero":false},"axis":{"orient":"bottom","values":[0,13,26,39,52,65,78,91],"labelExpr":"datum.value == 26 ? \"'15\" : (datum.value == 78 ? \"'16\" : '')","tickSize":4,"labelPadding":3,"title":null,"labelFlush":false}},"y":{"field":"va","type":"quantitative","scale":{"domain":[4670000,19040000],"nice":false,"zero":false},"axis":{"orient":"right","values":[5000000,6000000,7000000,8000000,9000000,10000000,11000000,12000000,13000000,14000000,15000000,16000000,17000000,18000000],"labelExpr":"indexof([7000000,13000000,16000000], datum.value) >= 0 ? format(datum.value, ',.2f') : ''","tickSize":4,"labelPadding":2,"title":null,"labelFlush":false,"labelOverlap":false}}}},
{"data":{"values":[{"t":"Volume Avg (50,50,darkgreen,Red)","x":-0.12},{"t":"11232064.96","x":40.38}]},"mark":{"type":"text","align":"left","baseline":"alphabetic","fontSize":10.5,"color":"#000000"},"encoding":{"text":{"field":"t"},"x":{"field":"x","type":"quantitative","scale":{"domain":[-0.45,93.22],"nice":false,"zero":false},"axis":{"orient":"bottom","values":[0,13,26,39,52,65,78,91],"labelExpr":"datum.value == 26 ? \"'15\" : (datum.value == 78 ? \"'16\" : '')","tickSize":4,"labelPadding":3,"title":null,"labelFlush":false}},"y":{"datum":17910000,"type":"quantitative","scale":{"domain":[4670000,19040000],"nice":false,"zero":false},"axis":{"orient":"right","values":[5000000,6000000,7000000,8000000,9000000,10000000,11000000,12000000,13000000,14000000,15000000,16000000,17000000,18000000],"labelExpr":"indexof([7000000,13000000,16000000], datum.value) >= 0 ? format(datum.value, ',.2f') : ''","tickSize":4,"labelPadding":2,"title":null,"labelFlush":false,"labelOverlap":false}}}},
{"data":{"values":[{"t":"9939780.00","x":29.72}]},"mark":{"type":"text","align":"left","baseline":"alphabetic","fontSize":10.5,"color":"#008000"},"encoding":{"text":{"field":"t"},"x":{"field":"x","type":"quantitative","scale":{"domain":[-0.45,93.22],"nice":false,"zero":false},"axis":{"orient":"bottom","values":[0,13,26,39,52,65,78,91],"labelExpr":"datum.value == 26 ? \"'15\" : (datum.value == 78 ? \"'16\" : '')","tickSize":4,"labelPadding":3,"title":null,"labelFlush":false}},"y":{"datum":17910000,"type":"quantitative","scale":{"domain":[4670000,19040000],"nice":false,"zero":false},"axis":{"orient":"right","values":[5000000,6000000,7000000,8000000,9000000,10000000,11000000,12000000,13000000,14000000,15000000,16000000,17000000,18000000],"labelExpr":"indexof([7000000,13000000,16000000], datum.value) >= 0 ? format(datum.value, ',.2f') : ''","tickSize":4,"labelPadding":2,"title":null,"labelFlush":false,"labelOverlap":false}}}},
{"data":{"values":[{"v":11232064.96,"k":"a","x0":93.7,"x1":107},{"v":9939780,"k":"c","x0":93.7,"x1":107}]},"mark":{"type":"rule","strokeWidth":13,"strokeCap":"butt","yOffset":2.5},"encoding":{"x":{"field":"x0","type":"quantitative","scale":{"domain":[-0.45,93.22],"nice":false,"zero":false},"axis":{"orient":"bottom","values":[0,13,26,39,52,65,78,91],"labelExpr":"datum.value == 26 ? \"'15\" : (datum.value == 78 ? \"'16\" : '')","tickSize":4,"labelPadding":3,"title":null,"labelFlush":false}},"x2":{"field":"x1"},"y":{"field":"v","type":"quantitative","scale":{"domain":[4670000,19040000],"nice":false,"zero":false},"axis":{"orient":"right","values":[5000000,6000000,7000000,8000000,9000000,10000000,11000000,12000000,13000000,14000000,15000000,16000000,17000000,18000000],"labelExpr":"indexof([7000000,13000000,16000000], datum.value) >= 0 ? format(datum.value, ',.2f') : ''","tickSize":4,"labelPadding":2,"title":null,"labelFlush":false,"labelOverlap":false}},"color":{"condition":{"test":"datum.k == 'a'","value":"#000000"},"value":"#008000"}}},
{"data":{"values":[{"v":11232064.96,"x":94.2},{"v":9939780,"x":94.2}]},"mark":{"type":"text","align":"left","baseline":"middle","color":"#ffffff","fontSize":11,"yOffset":2.5},"encoding":{"x":{"field":"x","type":"quantitative","scale":{"domain":[-0.45,93.22],"nice":false,"zero":false},"axis":{"orient":"bottom","values":[0,13,26,39,52,65,78,91],"labelExpr":"datum.value == 26 ? \"'15\" : (datum.value == 78 ? \"'16\" : '')","tickSize":4,"labelPadding":3,"title":null,"labelFlush":false}},"y":{"field":"v","type":"quantitative","scale":{"domain":[4670000,19040000],"nice":false,"zero":false},"axis":{"orient":"right","values":[5000000,6000000,7000000,8000000,9000000,10000000,11000000,12000000,13000000,14000000,15000000,16000000,17000000,18000000],"labelExpr":"indexof([7000000,13000000,16000000], datum.value) >= 0 ? format(datum.value, ',.2f') : ''","tickSize":4,"labelPadding":2,"title":null,"labelFlush":false,"labelOverlap":false}},"text":{"field":"v","format":",.2f"}}}
]
}
]
}
